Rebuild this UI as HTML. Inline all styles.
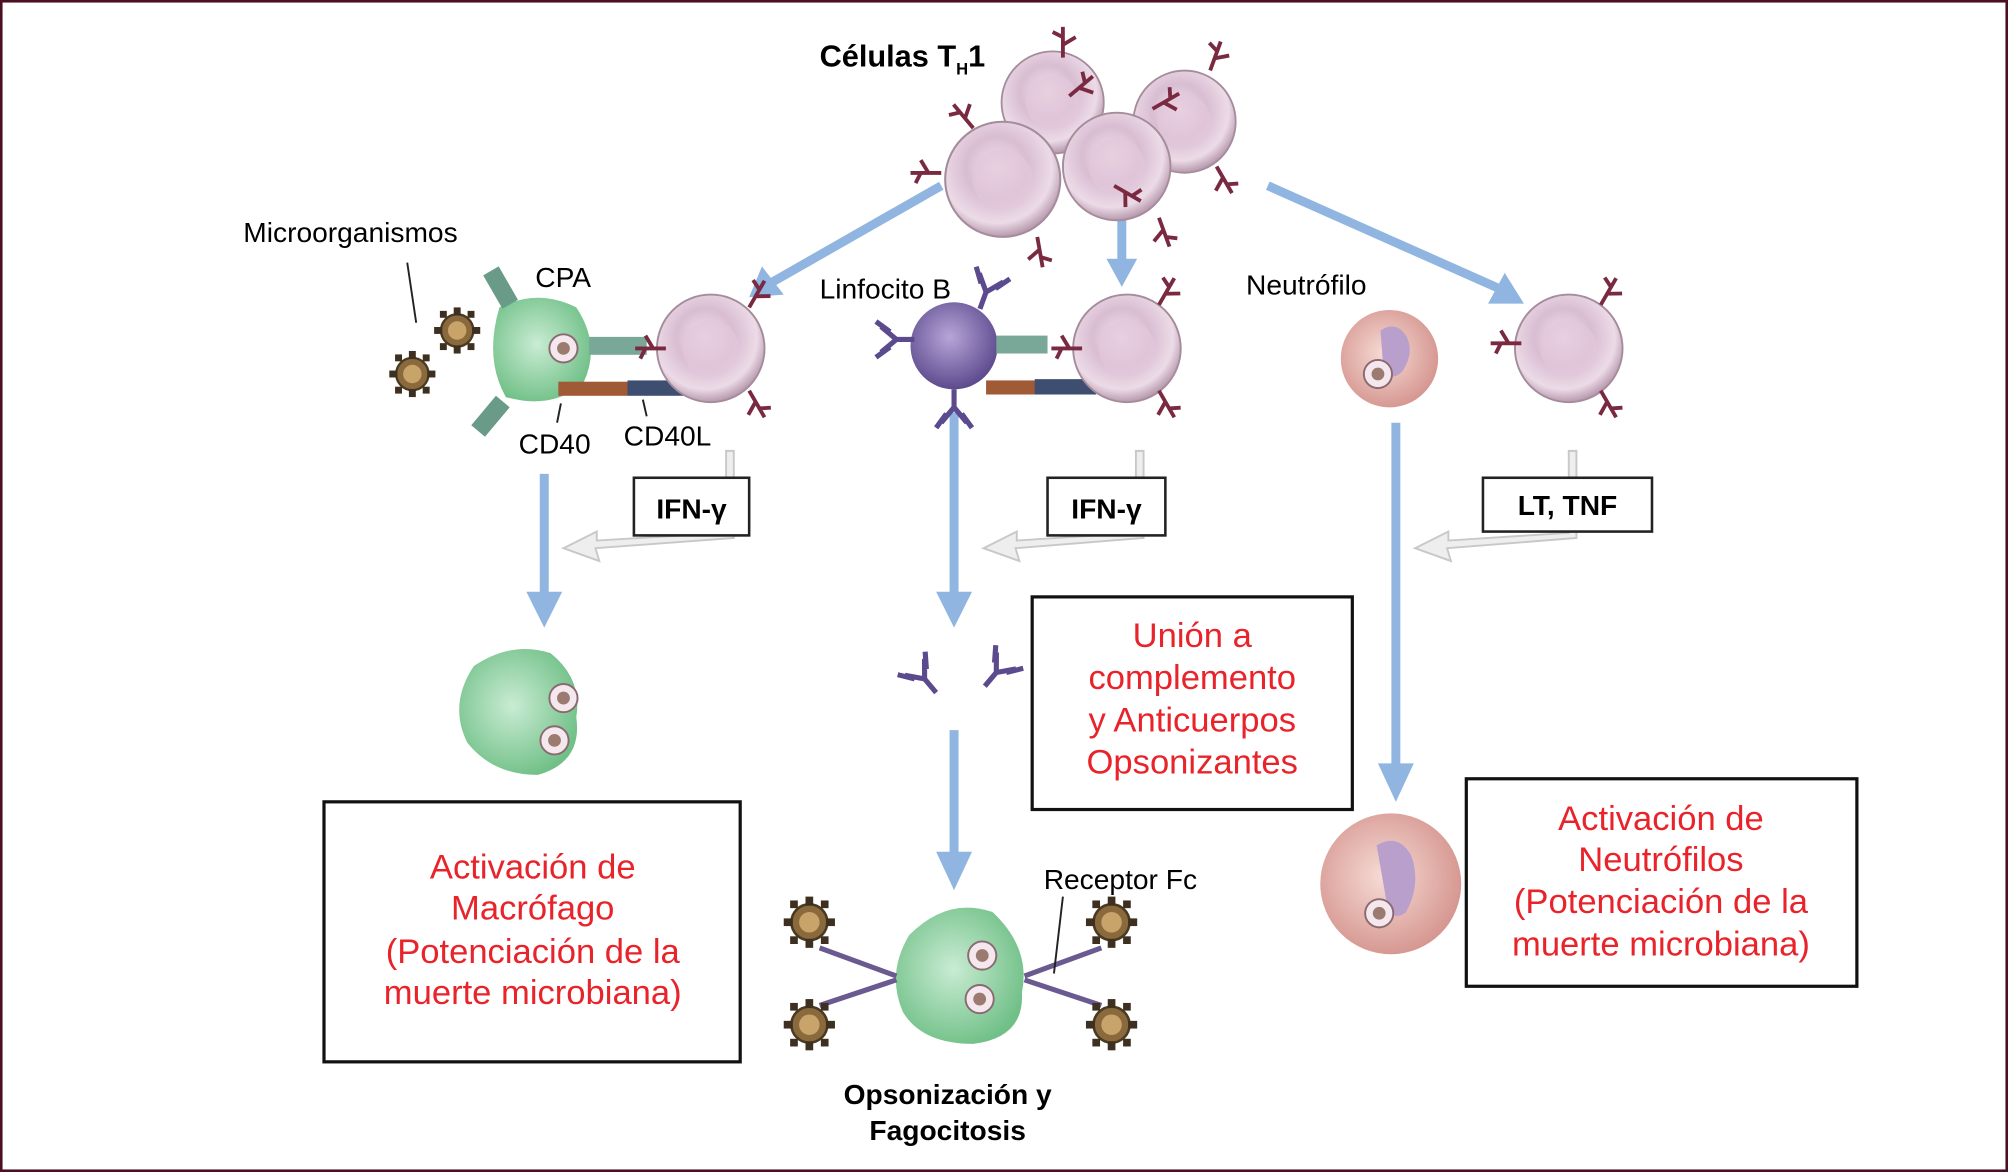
<!DOCTYPE html>
<html><head><meta charset="utf-8"><style>
html,body{margin:0;padding:0;background:#fff}
svg{display:block}
text{font-family:"Liberation Sans",sans-serif}
.r{fill:#e8232a;font-size:27px;text-anchor:middle}
.b{font-weight:bold}
</style></head><body>
<svg width="2008" height="1172" viewBox="0 0 1568 915" preserveAspectRatio="none" xmlns="http://www.w3.org/2000/svg">
<defs>
<radialGradient id="pk" cx="45%" cy="40%" r="60%"><stop offset="0" stop-color="#f3e4ee"/><stop offset="0.45" stop-color="#d9bdd2"/><stop offset="0.8" stop-color="#ecdbe7"/><stop offset="1" stop-color="#b89aae"/></radialGradient>
<radialGradient id="gr" cx="45%" cy="45%" r="60%"><stop offset="0" stop-color="#c9ecd3"/><stop offset="1" stop-color="#6fbf86"/></radialGradient>
<radialGradient id="pu" cx="45%" cy="40%" r="60%"><stop offset="0" stop-color="#b7a5d8"/><stop offset="1" stop-color="#5c4a8e"/></radialGradient>
<radialGradient id="ne" cx="45%" cy="45%" r="60%"><stop offset="0" stop-color="#f7dcd6"/><stop offset="1" stop-color="#d4928c"/></radialGradient>
<g id="tc"><circle r="42" fill="url(#pk)" stroke="#a58c9c" stroke-width="1.5"/><circle r="22" fill="#e2c8da" opacity="0.7"/></g>
<g id="sp" stroke="#7a2a40" stroke-width="3" fill="none"><path d="M0 0 L0 -24 M0 -10 L10 -16 M0 -16 L-8 -20"/></g>
<g id="mb"><circle r="14" fill="#8a6a3c" stroke="#4a3a22" stroke-width="2"/><circle r="8" fill="#c9a46a"/><g fill="#3d3020"><rect x="-3" y="-20" width="6" height="7"/><rect x="-3" y="13" width="6" height="7"/><rect x="-20" y="-3" width="7" height="6"/><rect x="13" y="-3" width="7" height="6"/><rect x="9" y="-17" width="6" height="6"/><rect x="-15" y="11" width="6" height="6"/><rect x="-15" y="-17" width="6" height="6"/><rect x="9" y="11" width="6" height="6"/></g></g>
<g id="ph"><circle r="11" fill="#f4e8ee" stroke="#8a6a70" stroke-width="1.5"/><circle r="5" fill="#9b7b70"/></g>
<g id="ab" stroke="#5c4a8e" stroke-width="4" fill="none"><path d="M0 0 L0 14 M0 0 L-10 -12 M0 0 L10 -12 M-6 -5 L-14 -16 M6 -5 L14 -16"/></g>
</defs>
<rect x="1" y="1" width="1566" height="913" fill="#fff" stroke="#4a1020" stroke-width="2"/>

<g stroke="#8fb5e0" stroke-width="7" fill="#8fb5e0">
<line x1="735" y1="145" x2="600" y2="222"/><polygon points="585,232 595,208 612,230" stroke="none"/>
<line x1="876" y1="172" x2="876" y2="205"/><polygon points="864,202 888,202 876,224" stroke="none"/>
<line x1="990" y1="145" x2="1170" y2="225"/><polygon points="1190,237 1162,237 1175,213" stroke="none"/>
<line x1="425" y1="370" x2="425" y2="465"/><polygon points="411,462 439,462 425,490" stroke="none"/>
<line x1="745" y1="322" x2="745" y2="465"/><polygon points="731,462 759,462 745,490" stroke="none"/>
<line x1="745" y1="570" x2="745" y2="668"/><polygon points="731,665 759,665 745,695" stroke="none"/>
<line x1="1090" y1="330" x2="1090" y2="598"/><polygon points="1076,596 1104,596 1090,626" stroke="none"/>
</g>
<g fill="#eeeeee" stroke="#c8c8c8" stroke-width="1.5">
<path d="M567 352 L573 352 L573 420 L465 428 L468 438 L440 428 L466 415 L466 422 L567 416 Z"/>
<path d="M887 352 L893 352 L893 420 L793 428 L796 438 L768 428 L794 415 L794 422 L887 416 Z"/>
<path d="M1225 352 L1231 352 L1231 420 L1130 428 L1133 438 L1105 428 L1131 415 L1131 422 L1225 416 Z"/>
</g>

<g>
<use href="#tc" transform="translate(822,80) scale(0.95)"/>
<use href="#tc" transform="translate(925,95) scale(0.95)"/>
<use href="#tc" transform="translate(783,140) scale(1.07)"/>
<use href="#tc" transform="translate(872,130)"/>
<use href="#sp" transform="translate(735,135) rotate(-90)"/>
<use href="#sp" transform="translate(760,100) rotate(-40)"/>
<use href="#sp" transform="translate(830,45) rotate(0)"/>
<use href="#sp" transform="translate(835,75) rotate(50)"/>
<use href="#sp" transform="translate(945,55) rotate(20)"/>
<use href="#sp" transform="translate(900,85) rotate(60)"/>
<use href="#sp" transform="translate(810,185) rotate(170)"/>
<use href="#sp" transform="translate(870,145) rotate(120)"/>
<use href="#sp" transform="translate(905,170) rotate(160)"/>
<use href="#sp" transform="translate(950,130) rotate(150)"/>
</g>
<text x="640" y="52" font-size="24" class="b">Células T<tspan font-size="13" dy="6">H</tspan><tspan dy="-6">1</tspan></text>

<text x="190" y="189" font-size="22">Microorganismos</text>
<line x1="318" y1="205" x2="325" y2="252" stroke="#222" stroke-width="1.5"/>
<use href="#mb" transform="translate(357,258) scale(0.9)"/>
<use href="#mb" transform="translate(322,292) scale(0.9)"/>
<path d="M390 240 Q420 225 450 240 Q470 270 455 300 Q430 320 395 310 Q378 280 390 240Z" fill="url(#gr)"/>
<rect x="384" y="210" width="14" height="30" fill="#6a9a88" transform="rotate(-30 390 225)"/>
<rect x="376" y="310" width="14" height="30" fill="#6a9a88" transform="rotate(40 383 325)"/>
<use href="#ph" transform="translate(440,272)"/>
<rect x="460" y="263" width="45" height="14" fill="#7aa898"/>
<rect x="436" y="298" width="54" height="11" fill="#a05a35"/>
<rect x="490" y="297" width="47" height="12" fill="#3e4e70"/>
<use href="#tc" transform="translate(555,272)"/>
<use href="#sp" transform="translate(585,240) rotate(30)"/>
<use href="#sp" transform="translate(520,272) rotate(-90)"/>
<use href="#sp" transform="translate(585,305) rotate(150)"/>
<text x="418" y="224" font-size="22">CPA</text>
<line x1="438" y1="315" x2="435" y2="330" stroke="#222" stroke-width="1.5"/>
<line x1="502" y1="312" x2="505" y2="325" stroke="#222" stroke-width="1.5"/>
<text x="405" y="354" font-size="22">CD40</text>
<text x="487" y="348" font-size="22">CD40L</text>
<rect x="495" y="373" width="90" height="45" fill="#fff" stroke="#222" stroke-width="2"/>
<text x="540" y="405" font-size="22" class="b" text-anchor="middle">IFN-γ</text>
<path d="M370 520 Q400 500 430 510 Q455 530 450 560 Q455 595 420 605 Q385 605 365 580 Q350 550 370 520Z" fill="url(#gr)"/>
<use href="#ph" transform="translate(440,545)"/><use href="#ph" transform="translate(433,578)"/>
<rect x="253" y="626" width="325" height="203" fill="#fff" stroke="#111" stroke-width="2.5"/>
<text class="r" x="416" y="686">Activación de</text>
<text class="r" x="416" y="718">Macrófago</text>
<text class="r" x="416" y="752">(Potenciación de la</text>
<text class="r" x="416" y="784">muerte microbiana)</text>

<text x="640" y="233" font-size="22">Linfocito B</text>
<circle cx="745" cy="270" r="34" fill="url(#pu)"/>
<use href="#ab" transform="translate(770,228) rotate(20)"/>
<use href="#ab" transform="translate(700,265) rotate(-90)"/>
<use href="#ab" transform="translate(745,318) rotate(180)"/>
<rect x="778" y="262" width="40" height="14" fill="#7aa898"/>
<rect x="770" y="297" width="40" height="11" fill="#a05a35"/>
<rect x="808" y="296" width="48" height="12" fill="#3e4e70"/>
<use href="#tc" transform="translate(880,272)"/>
<use href="#sp" transform="translate(905,238) rotate(30)"/>
<use href="#sp" transform="translate(845,272) rotate(-90)"/>
<use href="#sp" transform="translate(905,305) rotate(150)"/>
<rect x="818" y="373" width="92" height="45" fill="#fff" stroke="#222" stroke-width="2"/>
<text x="864" y="405" font-size="22" class="b" text-anchor="middle">IFN-γ</text>
<use href="#ab" transform="translate(722,530) rotate(-40)"/>
<use href="#ab" transform="translate(778,525) rotate(40)"/>
<rect x="806" y="466" width="250" height="166" fill="#fff" stroke="#111" stroke-width="2.5"/>
<text class="r" x="931" y="505">Unión a</text>
<text class="r" x="931" y="538">complemento</text>
<text class="r" x="931" y="571">y Anticuerpos</text>
<text class="r" x="931" y="604">Opsonizantes</text>
<path d="M710 730 Q740 700 775 712 Q805 740 798 775 Q800 810 760 815 Q720 815 705 790 Q692 760 710 730Z" fill="url(#gr)"/>
<use href="#ph" transform="translate(767,746)"/><use href="#ph" transform="translate(765,780)"/>
<g stroke="#6a5a90" stroke-width="4"><line x1="640" y1="740" x2="700" y2="762"/><line x1="640" y1="785" x2="700" y2="765"/><line x1="860" y1="740" x2="800" y2="762"/><line x1="860" y1="785" x2="800" y2="765"/></g>
<use href="#mb" transform="translate(632,720)"/><use href="#mb" transform="translate(632,800)"/>
<use href="#mb" transform="translate(868,720)"/><use href="#mb" transform="translate(868,800)"/>
<text x="815" y="694" font-size="22">Receptor Fc</text>
<line x1="830" y1="700" x2="823" y2="760" stroke="#222" stroke-width="1.5"/>
<text x="740" y="862" font-size="22" class="b" text-anchor="middle">Opsonización y</text>
<text x="740" y="890" font-size="22" class="b" text-anchor="middle">Fagocitosis</text>

<text x="973" y="230" font-size="22">Neutrófilo</text>
<circle cx="1085" cy="280" r="38" fill="url(#ne)"/>
<path d="M1078 258 Q1090 250 1098 262 Q1105 275 1095 290 Q1085 300 1080 285Z" fill="#b9a0cc"/>
<use href="#ph" transform="translate(1076,292)"/>
<use href="#tc" transform="translate(1225,272)"/>
<use href="#sp" transform="translate(1250,238) rotate(30)"/>
<use href="#sp" transform="translate(1188,268) rotate(-90)"/>
<use href="#sp" transform="translate(1250,305) rotate(150)"/>
<rect x="1158" y="373" width="132" height="42" fill="#fff" stroke="#222" stroke-width="2"/>
<text x="1224" y="402" font-size="22" class="b" text-anchor="middle">LT, TNF</text>
<circle cx="1086" cy="690" r="55" fill="url(#ne)"/>
<path d="M1075 660 Q1092 650 1102 668 Q1110 690 1098 712 Q1086 722 1082 700Z" fill="#b9a0cc"/>
<use href="#ph" transform="translate(1077,713)"/>
<rect x="1145" y="608" width="305" height="162" fill="#fff" stroke="#111" stroke-width="2.5"/>
<text class="r" x="1297" y="648">Activación de</text>
<text class="r" x="1297" y="680">Neutrófilos</text>
<text class="r" x="1297" y="713">(Potenciación de la</text>
<text class="r" x="1297" y="746">muerte microbiana)</text>
</svg>
</body></html>
